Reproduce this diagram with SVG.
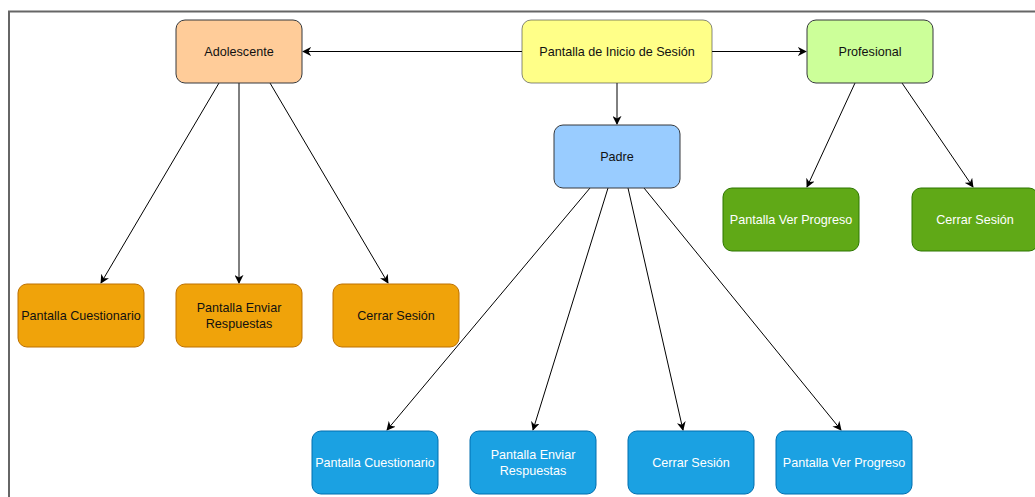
<svg xmlns="http://www.w3.org/2000/svg" width="1035" height="497" viewBox="0 0 1035 497">
<defs>
<marker id="arr" viewBox="0 0 10 10" refX="9" refY="5" markerWidth="9" markerHeight="9" markerUnits="userSpaceOnUse" orient="auto">
<path d="M0,0 L10,5 L0,10 L3,5 Z" fill="#000"/>
</marker>
<style>
.n rect{stroke-width:1}
.t{font-family:"Liberation Sans",Arial,sans-serif;font-size:12.6px;text-anchor:middle;dominant-baseline:central}
.dk{fill:#111}
.wh{fill:#fff}
.e{stroke:#000;stroke-width:1;fill:none;marker-end:url(#arr)}
</style>
</defs>
<rect width="1035" height="497" fill="#fff"/>
<rect x="9" y="11.5" width="1040" height="500" fill="none" stroke="#666" stroke-width="2"/>
<g id="connectors">
<line class="e" x1="522" y1="51.5" x2="303" y2="51.5"/>
<line class="e" x1="712" y1="51.5" x2="806" y2="51.5"/>
<line class="e" x1="617" y1="83" x2="617" y2="124"/>
<line class="e" x1="219" y1="83" x2="101" y2="283"/>
<line class="e" x1="239" y1="83" x2="239" y2="283"/>
<line class="e" x1="270" y1="83" x2="388" y2="283"/>
<line class="e" x1="590" y1="188" x2="387" y2="430"/>
<line class="e" x1="608" y1="188" x2="533" y2="430"/>
<line class="e" x1="628" y1="188" x2="683" y2="430"/>
<line class="e" x1="644" y1="188" x2="841" y2="430"/>
<line class="e" x1="855" y1="83" x2="807" y2="187"/>
<line class="e" x1="902" y1="83" x2="973" y2="187"/>
</g>
<g id="adolescente" class="n"><rect x="176" y="20" width="126" height="63" rx="9" fill="#FFCC99" stroke="#36393d"/><text class="t dk" x="239" y="51.5">Adolescente</text></g>
<g id="inicio" class="n"><rect x="522" y="20" width="190" height="63" rx="9" fill="#FFFF88" stroke="#36393d" stroke-opacity="0.6"/><text class="t dk" x="617" y="51.5">Pantalla de Inicio de Sesión</text></g>
<g id="profesional" class="n"><rect x="807" y="20" width="126" height="63" rx="9" fill="#CCFF99" stroke="#36393d"/><text class="t dk" x="870" y="51.5">Profesional</text></g>
<g id="padre" class="n"><rect x="554" y="125" width="126" height="63" rx="9" fill="#99CCFF" stroke="#36393d"/><text class="t dk" x="617" y="156.5">Padre</text></g>
<g id="prof-progreso" class="n"><rect x="723" y="188" width="136" height="63" rx="9" fill="#60A917" stroke="#2D7600"/><text class="t wh" x="791" y="219.5">Pantalla Ver Progreso</text></g>
<g id="prof-cerrar" class="n"><rect x="912" y="188" width="126" height="63" rx="9" fill="#60A917" stroke="#2D7600"/><text class="t wh" x="975" y="219.5">Cerrar Sesión</text></g>
<g id="ado-cuestionario" class="n"><rect x="18" y="284" width="126" height="63" rx="9" fill="#F0A30A" stroke="#BD7000"/><text class="t dk" x="81" y="315.5">Pantalla Cuestionario</text></g>
<g id="ado-enviar" class="n"><rect x="176" y="284" width="126" height="63" rx="9" fill="#F0A30A" stroke="#BD7000"/><text class="t dk" x="239" y="307.5">Pantalla Enviar</text><text class="t dk" x="239" y="323.5">Respuestas</text></g>
<g id="ado-cerrar" class="n"><rect x="333" y="284" width="126" height="63" rx="9" fill="#F0A30A" stroke="#BD7000"/><text class="t dk" x="396" y="315.5">Cerrar Sesión</text></g>
<g id="padre-cuestionario" class="n"><rect x="312" y="431" width="126" height="63" rx="9" fill="#1BA1E2" stroke="#006EAF"/><text class="t wh" x="375" y="462.5">Pantalla Cuestionario</text></g>
<g id="padre-enviar" class="n"><rect x="470" y="431" width="126" height="63" rx="9" fill="#1BA1E2" stroke="#006EAF"/><text class="t wh" x="533" y="454.5">Pantalla Enviar</text><text class="t wh" x="533" y="470.5">Respuestas</text></g>
<g id="padre-cerrar" class="n"><rect x="628" y="431" width="126" height="63" rx="9" fill="#1BA1E2" stroke="#006EAF"/><text class="t wh" x="691" y="462.5">Cerrar Sesión</text></g>
<g id="padre-progreso" class="n"><rect x="776" y="431" width="136" height="63" rx="9" fill="#1BA1E2" stroke="#006EAF"/><text class="t wh" x="844" y="462.5">Pantalla Ver Progreso</text></g>
</svg>
